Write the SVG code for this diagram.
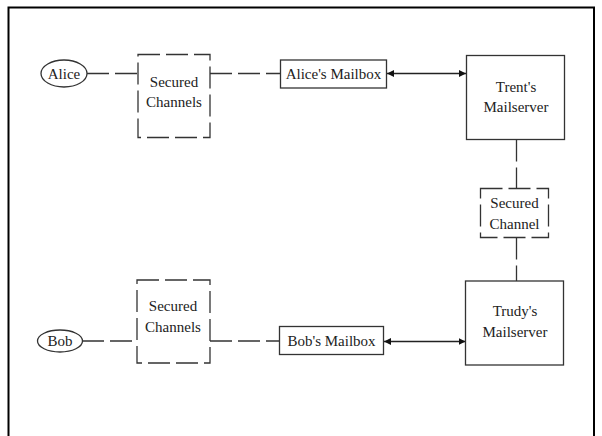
<svg xmlns="http://www.w3.org/2000/svg" width="602" height="436" viewBox="0 0 602 436">
<style>
.t{font-family:'Liberation Serif','DejaVu Serif','Times New Roman',serif;font-size:15px;fill:#222;text-anchor:middle}
.box{fill:#fff;stroke:#333;stroke-width:1.3}
.dbox{fill:#fff;stroke:#333;stroke-width:1.3;stroke-dasharray:22 6}
.dl{fill:none;stroke:#333;stroke-width:1.3;stroke-dasharray:22 6}
.sl{fill:none;stroke:#222;stroke-width:1.3}
</style>
<defs>
<marker id="ah" viewBox="0 0 10 10" refX="10" refY="5" markerWidth="7" markerHeight="7" orient="auto-start-reverse" markerUnits="userSpaceOnUse">
<path d="M0,0 L10,5 L0,10 z" fill="#111"/>
</marker>
</defs>
<rect x="0" y="0" width="602" height="436" fill="#fff"/>
<path d="M8.5,440 V7.5 H594 V440" fill="none" stroke="#000" stroke-width="2"/>
<g id="connectors">
<path class="dl" d="M87,73.5 H138"/>
<path class="dl" d="M210,73.5 H280"/>
<path class="sl" d="M387,73.5 H466" marker-start="url(#ah)" marker-end="url(#ah)"/>
<path class="dl" d="M516.5,139.5 V188.5"/>
<path class="dl" d="M516.5,237.5 V281"/>
<path class="dl" d="M82,341 H137"/>
<path class="dl" d="M210,341 H279"/>
<path class="sl" d="M384,341.5 H465.5" marker-start="url(#ah)" marker-end="url(#ah)"/>
</g>
<g id="alice">
<ellipse class="box" cx="64" cy="73.5" rx="23" ry="13.5"/>
<text class="t" x="64" y="78.5">Alice</text>
</g>
<g id="secured-channels-top">
<rect class="dbox" x="138" y="54.5" width="72" height="83"/>
<text class="t" x="174" y="86.5">Secured</text>
<text class="t" x="174" y="106.5">Channels</text>
</g>
<g id="alice-mailbox">
<rect class="box" x="280.5" y="60" width="106" height="28"/>
<text class="t" x="333.5" y="79">Alice's Mailbox</text>
</g>
<g id="trent">
<rect class="box" x="466.5" y="55.5" width="98" height="84"/>
<text class="t" x="516" y="91.5">Trent's</text>
<text class="t" x="516" y="111.5">Mailserver</text>
</g>
<g id="secured-channel">
<rect class="dbox" x="480.5" y="188.5" width="68" height="49"/>
<text class="t" x="514.5" y="207.5">Secured</text>
<text class="t" x="514.5" y="229">Channel</text>
</g>
<g id="trudy">
<rect class="box" x="465.5" y="281" width="98" height="84"/>
<text class="t" x="515" y="315.5">Trudy's</text>
<text class="t" x="515" y="336.5">Mailserver</text>
</g>
<g id="bob">
<ellipse class="box" cx="60" cy="341" rx="22.5" ry="11"/>
<text class="t" x="60" y="346">Bob</text>
</g>
<g id="secured-channels-bottom">
<rect class="dbox" x="137" y="280" width="73" height="83"/>
<text class="t" x="173" y="311">Secured</text>
<text class="t" x="173" y="331.5">Channels</text>
</g>
<g id="bob-mailbox">
<rect class="box" x="279.5" y="326.5" width="104" height="28"/>
<text class="t" x="331.5" y="346">Bob's Mailbox</text>
</g>
</svg>
